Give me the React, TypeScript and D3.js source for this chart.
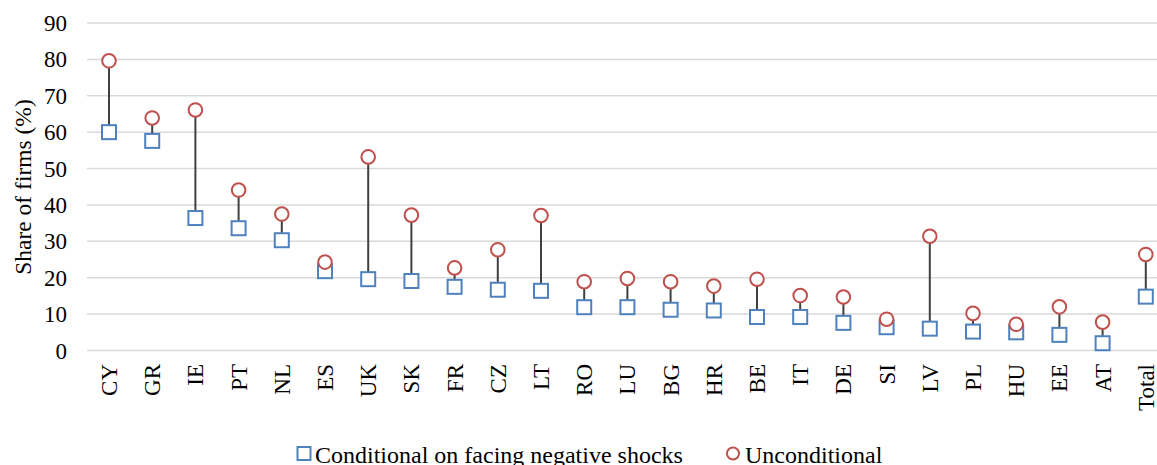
import React, { useRef, useEffect } from "react";
import * as d3 from "d3";

const countries = [
  "CY", "GR", "IE", "PT", "NL", "ES", "UK", "SK", "FR", "CZ", "LT", "RO",
  "LU", "BG", "HR", "BE", "IT", "DE", "SI", "LV", "PL", "HU", "EE", "AT", "Total",
];
// Conditional on facing negative shocks
const conditional = [
  60.0, 57.6, 36.4, 33.6, 30.3, 21.8, 19.6, 19.1, 17.5, 16.7, 16.4, 11.9,
  11.9, 11.2, 11.0, 9.2, 9.2, 7.6, 6.4, 6.0, 5.2, 5.0, 4.3, 2.0, 14.8,
];
// Unconditional
const unconditional = [
  79.6, 63.9, 66.1, 44.1, 37.5, 24.3, 53.2, 37.2, 22.7, 27.7, 37.1, 18.9,
  19.8, 18.9, 17.7, 19.6, 15.1, 14.7, 8.6, 31.4, 10.2, 7.2, 12.0, 7.8, 26.4,
];
const yTicks = [0, 10, 20, 30, 40, 50, 60, 70, 80, 90];

const W = 1157;
const H = 465;
const BLUE = "#4F81BD";
const RED = "#C0504D";
const FONT = "'Liberation Serif', 'Times New Roman', serif";

const App = () => {
  const ref = useRef<SVGSVGElement | null>(null);

  useEffect(() => {
    if (!ref.current) return;
    const svg = d3.select(ref.current);
    svg.selectAll("*").remove();

    const x = d3
      .scaleBand<string>()
      .domain(countries)
      .range([87.4, 87.4 + 43.2 * countries.length]);
    const y = d3.scaleLinear().domain([0, 90]).range([350.5, 23]);
    const cx = (c: string) => x(c)! + x.bandwidth() / 2;

    // gridlines
    svg
      .append("g")
      .selectAll("line")
      .data(yTicks)
      .enter()
      .append("line")
      .attr("x1", 87)
      .attr("x2", W)
      .attr("y1", (d) => y(d))
      .attr("y2", (d) => y(d))
      .attr("stroke", "#d9d9d9")
      .attr("stroke-width", 1.5);

    // y tick labels
    svg
      .append("g")
      .selectAll("text")
      .data(yTicks)
      .enter()
      .append("text")
      .attr("x", 67)
      .attr("y", (d) => y(d))
      .attr("dy", "0.35em")
      .attr("text-anchor", "end")
      .style("font-family", FONT)
      .style("font-size", "23px")
      .text((d) => d);

    // y title
    svg
      .append("text")
      .attr("transform", `translate(31, 187) rotate(-90)`)
      .attr("text-anchor", "middle")
      .style("font-family", FONT)
      .style("font-size", "23.5px")
      .text("Share of firms (%)");

    // x labels
    svg
      .append("g")
      .selectAll("text")
      .data(countries)
      .enter()
      .append("text")
      .attr("transform", (d) => `translate(${cx(d)}, 364) rotate(-90)`)
      .attr("dy", "0.35em")
      .attr("text-anchor", "end")
      .style("font-family", FONT)
      .style("font-size", "23px")
      .text((d) => d);

    // connectors
    svg
      .append("g")
      .selectAll("line")
      .data(countries)
      .enter()
      .append("line")
      .attr("x1", (d) => cx(d))
      .attr("x2", (d) => cx(d))
      .attr("y1", (_, i) => y(conditional[i]))
      .attr("y2", (_, i) => y(unconditional[i]))
      .attr("stroke", "#404040")
      .attr("stroke-width", 2);

    // squares
    const s = 14;
    svg
      .append("g")
      .selectAll("rect")
      .data(countries)
      .enter()
      .append("rect")
      .attr("x", (d) => cx(d) - s / 2)
      .attr("y", (_, i) => y(conditional[i]) - s / 2)
      .attr("width", s)
      .attr("height", s)
      .attr("fill", "white")
      .attr("stroke", BLUE)
      .attr("stroke-width", 2);

    // circles
    svg
      .append("g")
      .selectAll("circle")
      .data(countries)
      .enter()
      .append("circle")
      .attr("cx", (d) => cx(d))
      .attr("cy", (_, i) => y(unconditional[i]))
      .attr("r", 6.8)
      .attr("fill", "white")
      .attr("stroke", RED)
      .attr("stroke-width", 2);

    // legend
    const lg = svg.append("g");
    lg.append("rect")
      .attr("x", 297.5)
      .attr("y", 447)
      .attr("width", 13)
      .attr("height", 13)
      .attr("fill", "white")
      .attr("stroke", BLUE)
      .attr("stroke-width", 2);
    lg.append("text")
      .attr("x", 315)
      .attr("y", 463)
      .style("font-family", FONT)
      .style("font-size", "24px")
      .text("Conditional on facing negative shocks");
    lg.append("circle")
      .attr("cx", 733)
      .attr("cy", 453.5)
      .attr("r", 6)
      .attr("fill", "white")
      .attr("stroke", RED)
      .attr("stroke-width", 2);
    lg.append("text")
      .attr("x", 745)
      .attr("y", 463)
      .style("font-family", FONT)
      .style("font-size", "24px")
      .text("Unconditional");
  }, []);

  return (
    <svg
      ref={ref}
      width={W}
      height={H}
      viewBox={`0 0 ${W} ${H}`}
      style={{ position: "absolute", left: 0, top: 0, background: "white" }}
    />
  );
};

export default App;
